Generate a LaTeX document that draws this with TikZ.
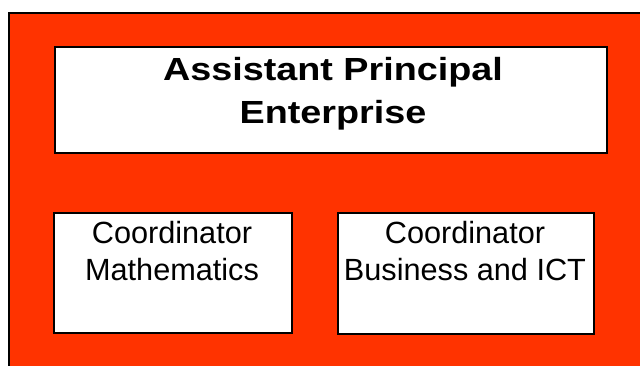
\documentclass[tikz,border=0pt]{standalone}
\usepackage{fontspec}
\setmainfont{Liberation Sans}
\definecolor{bgred}{RGB}{255,51,0}
\begin{document}
\begin{tikzpicture}[x=0.75pt,y=-0.75pt,
  frame/.style={draw=black,line width=1.4pt,fill=white,inner sep=0pt,outer sep=0pt},
  title/.style={font=\bfseries\fontsize{24pt}{32.25pt}\selectfont,align=center,anchor=base,inner sep=0pt,transform shape,xscale=1.18},
  label/.style={font=\fontsize{23pt}{27.75pt}\selectfont,align=center,anchor=base,inner sep=0pt}]
\useasboundingbox (0,0) rectangle (640,365);
\begin{scope}
\clip (0,0) rectangle (640,365);
\draw[fill=bgred,line width=1.4pt] (9,13) rectangle (660,380);
\end{scope}
\node[frame,minimum width=414pt,minimum height=79.5pt] (top) at (331,100) {};
\node[frame,minimum width=178.5pt,minimum height=90pt] (left) at (173,273) {};
\node[frame,minimum width=192pt,minimum height=90.75pt] (right) at (466,273.5) {};
\node[title] (toptext) at (333,123) {Assistant Principal\\Enterprise};
\node[label] (lefttext) at (172,280) {Coordinator\\Mathematics};
\node[label] (righttext) at (465,280) {Coordinator\\Business and ICT};
\end{tikzpicture}
\end{document}
